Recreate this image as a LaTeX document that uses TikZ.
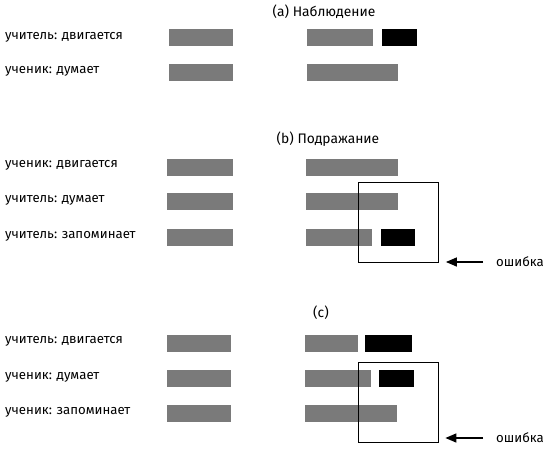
\documentclass[tikz,border=0pt]{standalone}
\usepackage{fontspec}
\setmainfont{Fira Sans}
\usetikzlibrary{arrows.meta, positioning, calc}

\newcommand\segm[4]{% left, right, row centre, colour
  \fill[#4] (#1,#3-8.5) rectangle (#2,#3+8.5);
}

\tikzset{
  lbl/.style={anchor=west, font=\fontsize{13.2}{15}\selectfont, inner sep=0pt},
  ttl/.style={font=\fontsize{13.8}{16}\selectfont, inner sep=0pt},
  errbox/.style={draw, line width=0.8pt, inner sep=0pt, minimum width=80pt, minimum height=80pt},
  errarrow/.style={-{Triangle[length=11pt,width=9pt]}, line width=1.5pt, shorten <=13pt},
}
\colorlet{noisy}{black!52}

\begin{document}
\begin{tikzpicture}[x=1pt,y=-1pt]
  \useasboundingbox (0,0) rectangle (550,450);
  % (a) observation
  \node[ttl] (ta) at (324,12) {(a) Наблюдение};
  \node[lbl] (a1) at (5,37) {учитель: двигается};
  \node[lbl] (a2) at (5,71) {ученик: думает};
  \segm{169}{233}{37.5}{noisy}
  \segm{307}{373}{37.5}{noisy}
  \segm{382}{417}{37.5}{black}
  \segm{169}{233}{72.5}{noisy}
  \segm{307}{398}{72.5}{noisy}
  % (b) imitation
  \node[ttl] (tb) at (328,139) {(b) Подражание};
  \node[lbl] (b1) at (5,165) {ученик: двигается};
  \node[lbl] (b2) at (5,200) {учитель: думает};
  \node[lbl] (b3) at (5,236) {учитель: запоминает};
  \segm{167}{233}{167.5}{noisy}
  \segm{306}{398}{167.5}{noisy}
  \segm{167}{233}{201.5}{noisy}
  \segm{306}{398}{201.5}{noisy}
  \segm{167}{233}{237.5}{noisy}
  \segm{306}{372}{237.5}{noisy}
  \segm{381}{415}{237.5}{black}
  \node[errbox] (eb) at (398.5,222) {};
  \node[lbl] (ob) at (496,262) {ошибка};
  \coordinate (pb) at ($(eb.east |- ob.west)+(7,0)$);
  \draw[errarrow] (ob.west) -- (pb);
  % (c)
  \node[ttl] (tc) at (321,313) {(c)};
  \node[lbl] (c1) at (5,341) {учитель: двигается};
  \node[lbl] (c2) at (5,377) {ученик: думает};
  \node[lbl] (c3) at (5,412) {ученик: запоминает};
  \segm{167}{231}{343}{noisy}
  \segm{305}{358}{343}{noisy}
  \segm{365}{412}{343}{black}
  \segm{167}{231}{378.5}{noisy}
  \segm{305}{371}{378.5}{noisy}
  \segm{379}{414}{378.5}{black}
  \segm{167}{231}{413.5}{noisy}
  \segm{305}{397}{413.5}{noisy}
  \node[errbox] (ec) at (398,402) {};
  \node[lbl] (oc) at (496,438) {ошибка};
  \coordinate (pc) at ($(ec.east |- oc.west)+(7,0)$);
  \draw[errarrow] (oc.west) -- (pc);
\end{tikzpicture}
\end{document}
